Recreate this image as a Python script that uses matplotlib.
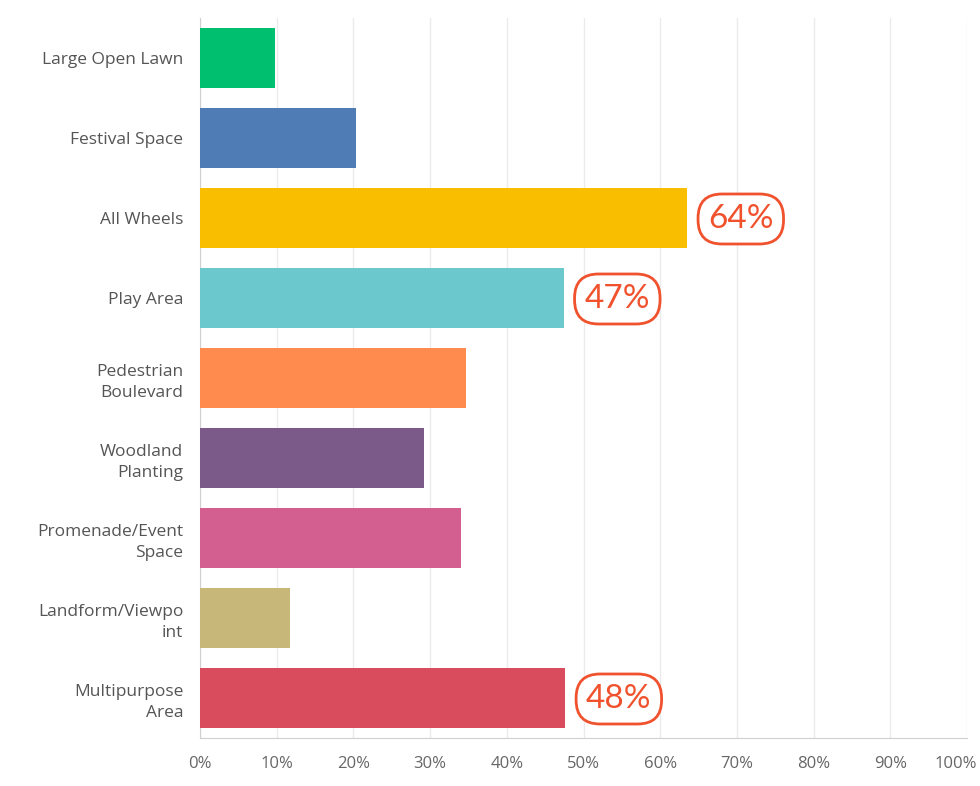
import matplotlib.pyplot as plt
from matplotlib.transforms import ScaledTranslation

# answer options (top to bottom) and share of respondents, %
options = ['Large Open Lawn', 'Festival Space', 'All Wheels', 'Play Area',
           'Pedestrian\nBoulevard', 'Woodland\nPlanting', 'Promenade/Event\nSpace',
           'Landform/Viewpo\nint', 'Multipurpose\nArea']
shares = [9.8, 20.4, 63.5, 47.4, 34.7, 29.2, 34.0, 11.7, 47.6]
colors = ['#00BF6F', '#507CB6', '#F9BE00', '#6BC8CD', '#FF8B4F',
          '#7B5A8A', '#D25F90', '#C7B879', '#D94C5D']

# highlighted bars and their callout text
callouts = {2: '64%', 3: '47%', 8: '48%'}
ticks = list(range(0, 101, 10))
tick_labels = [f'{t}%' for t in ticks]

fig = plt.figure(figsize=(9.8, 7.86), dpi=100)
ax = fig.add_axes([200 / 980, 48 / 786, 767 / 980, 720 / 786])

y = list(range(len(options)))
ax.barh(y, shares, height=0.75, color=colors, zorder=3)

ax.set_ylim(len(options) - 0.5, -0.5)
ax.set_xlim(0, 100)
ax.set_xticks(ticks)
ax.set_xticklabels(tick_labels, fontsize=12, color='#666666', family='Open Sans')
ax.set_yticks(y)
ax.set_yticklabels(options, fontsize=12.5, color='#555555', family='Open Sans',
                   linespacing=1.45)
ax.tick_params(axis='both', length=0)
ax.tick_params(axis='y', pad=12)
ax.tick_params(axis='x', pad=13)

# last tick label sits a bit to the left so it stays in the picture
last = ax.get_xticklabels()[-1]
last.set_transform(last.get_transform() + ScaledTranslation(-0.11, 0, fig.dpi_scale_trans))

ax.grid(axis='x', color='#ebebeb', linewidth=1, zorder=0)
for side in ['top', 'right']:
    ax.spines[side].set_visible(False)
for side in ['left', 'bottom']:
    ax.spines[side].set_color('#d0d0d0')

for i, txt in callouts.items():
    ax.annotate(txt, xy=(shares[i], i), xytext=(21, -1), textcoords='offset pixels',
                ha='left', va='center', fontsize=24, color='#F0522E',
                family='Lato', fontweight='normal',
                bbox=dict(boxstyle='round,pad=0.3,rounding_size=0.72',
                          fc='white', ec='#F0522E', lw=2), zorder=5)

fig.savefig('out.png', dpi=100)
